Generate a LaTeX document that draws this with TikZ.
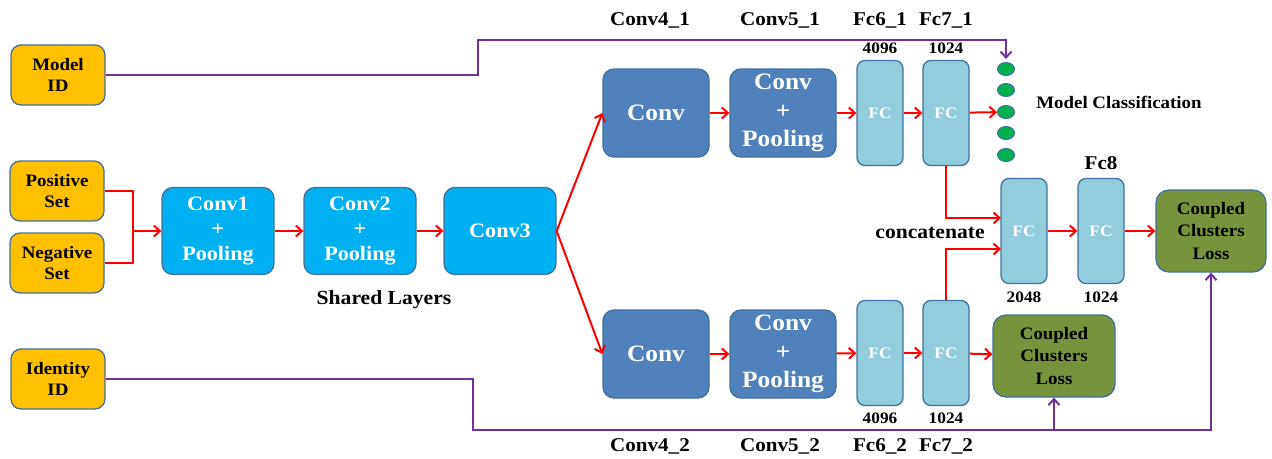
\documentclass[tikz,border=0pt]{standalone}
\usepackage{fontspec}
\setmainfont{Liberation Serif}[FakeStretch=1.08]
\usetikzlibrary{arrows.meta,shapes.geometric}

\definecolor{inbox}{HTML}{FFC000}
\definecolor{shared}{HTML}{00B0F0}
\definecolor{branch}{HTML}{4F81BD}
\definecolor{fcblue}{HTML}{92CDDC}
\definecolor{lossgreen}{HTML}{77933C}
\definecolor{unitgreen}{HTML}{00B050}
\definecolor{edgeblue}{HTML}{41719C}
\definecolor{idpurple}{HTML}{7030A0}
\definecolor{flowred}{HTML}{FF0000}

\newcommand{\fs}[2]{\bfseries\fontsize{#1}{#2}\selectfont}

\tikzset{
  box/.style={draw=edgeblue, line width=1.3pt, rounded corners=11pt, inner sep=0pt, align=center},
  inputbox/.style={box, fill=inbox, rounded corners=10pt, minimum width=94pt, minimum height=60pt, font=\fs{17.5}{21.5}},
  sharedbox/.style={box, fill=shared, text=white, minimum width=112pt, minimum height=87pt, font=\fs{20.5}{25}},
  branchbox/.style={box, fill=branch, text=white, minimum width=106pt, minimum height=88pt, font=\fs{23.5}{28.5}},
  fcbox/.style={box, rounded corners=8pt, fill=fcblue, text=white, minimum width=46pt, minimum height=105pt, font=\fs{16}{18}},
  lossbox/.style={box, rounded corners=13pt, fill=lossgreen, minimum height=82pt, font=\fs{17.5}{22.5}},
  unit/.style={ellipse, draw=edgeblue, line width=1pt, fill=unitgreen, minimum width=17pt, minimum height=13pt, inner sep=0pt},
  layerlabel/.style={font=\fs{19.5}{22}},
  dimlabel/.style={font=\fs{16}{18}},
  tip/.style={-{Straight Barb[length=6pt,width=11pt,line width=2pt]}},
  flowline/.style={draw=flowred, line width=2pt},
  flow/.style={flowline, tip},
  idline/.style={draw=idpurple, line width=2pt},
  idflow/.style={idline, tip},
}

\begin{document}
\begin{tikzpicture}[x=1pt, y=-1pt]
\useasboundingbox (0,0) rectangle (1272,458);

% inputs
\node[inputbox] (mid) at (58,75) {Model\\ID};
\node[inputbox] (pos) at (57,191) {Positive\\Set};
\node[inputbox] (neg) at (57,263) {Negative\\Set};
\node[inputbox] (iid) at (58,379) {Identity\\ID};

% shared layers
\node[sharedbox] (c1) at (218,231) {Conv1\\+\\Pooling};
\node[sharedbox] (c2) at (360,231) {Conv2\\+\\Pooling};
\node[sharedbox] (c3) at (500,231) {Conv3};
\node[font=\fs{20}{22}] (shl) at (384,300) {Shared Layers};

% upper branch
\node[branchbox] (c41) at (656,113) {Conv};
\node[branchbox] (c51) at (783,113) {Conv\\+\\Pooling};
\node[fcbox] (f61) at (880,113) {FC};
\node[fcbox] (f71) at (946,113) {FC};

% lower branch
\node[branchbox] (c42) at (656,354) {Conv};
\node[branchbox] (c52) at (783,354) {Conv\\+\\Pooling};
\node[fcbox] (f62) at (880,353) {FC};
\node[fcbox] (f72) at (946,353) {FC};

% joint head
\node[fcbox] (fa) at (1024,231) {FC};
\node[fcbox] (fb) at (1101,231) {FC};
\node[lossbox, minimum width=110pt] (lossa) at (1211,231) {Coupled\\Clusters\\Loss};
\node[lossbox, minimum width=122pt] (lossb) at (1054,356) {Coupled\\Clusters\\Loss};

% classification units
\foreach \i/\yy in {1/69, 2/90, 3/112, 4/133, 5/155}
  \node[unit] (u\i) at (1006,\yy) {};
\node[font=\fs{17.5}{20}] (mcl) at (1119,102) {Model Classification};

% layer labels
\node[layerlabel] (l41) at (650,20) {Conv4\_1};
\node[layerlabel] (l51) at (780,20) {Conv5\_1};
\node[layerlabel] (l61) at (880,20) {Fc6\_1};
\node[layerlabel] (l71) at (946,20) {Fc7\_1};
\node[layerlabel] (l42) at (650,446) {Conv4\_2};
\node[layerlabel] (l52) at (780,446) {Conv5\_2};
\node[layerlabel] (l62) at (880,446) {Fc6\_2};
\node[layerlabel] (l72) at (946,446) {Fc7\_2};
\node[layerlabel] (l8) at (1101,163) {Fc8};
\node[font=\fs{20}{22}] (cat) at (930,233) {concatenate};

% dimensions
\node[dimlabel] (d61) at (880,48) {4096};
\node[dimlabel] (d71) at (946,48) {1024};
\node[dimlabel] (d62) at (880,418) {4096};
\node[dimlabel] (d72) at (946,418) {1024};
\node[dimlabel] (da) at (1024,297) {2048};
\node[dimlabel] (db) at (1101,297) {1024};

% data flow
\coordinate (join) at (133,231);
\draw[flowline] (pos.east) -| (join);
\draw[flowline] (neg.east) -| (join);
\draw[flow] (join) -- (c1.west);
\draw[flow] (c1) -- (c2);
\draw[flow] (c2) -- (c3);
\draw[flow] (c3.east) -- (c41.west);
\draw[flow] (c3.east) -- (c42.west);
\draw[flow] (c41) -- (c51);
\draw[flow] (c51) -- (f61);
\draw[flow] (f61) -- (f71);
\draw[flow] (f71) -- (u3);
\draw[flow] (c42) -- (c52);
\draw[flow] (c52) -- (f62);
\draw[flow] (f62) -- (f72);
\draw[flow] (f72) -- (lossb);
\coordinate (ina) at (1001,218);
\coordinate (inb) at (1001,249);
\draw[flow] (f71.south) |- (ina);
\draw[flow] (f72.north) |- (inb);
\draw[flow] (fa) -- (fb);
\draw[flow] (fb) -- (lossa);

% label supervision
\coordinate (mbend) at (478,75);
\coordinate (mtop) at (478,40);
\draw[idflow, shorten >=3pt] (mid.east) -- (mbend) -- (mtop) -| (u1.north);
\coordinate (ibend) at (473,379);
\coordinate (ilow) at (473,430);
\coordinate (isplit) at (1054,430);
\draw[idflow] (iid.east) -- (ibend) -- (ilow) -| (lossa.south);
\draw[idflow] (isplit) -- (lossb.south);
\end{tikzpicture}
\end{document}
